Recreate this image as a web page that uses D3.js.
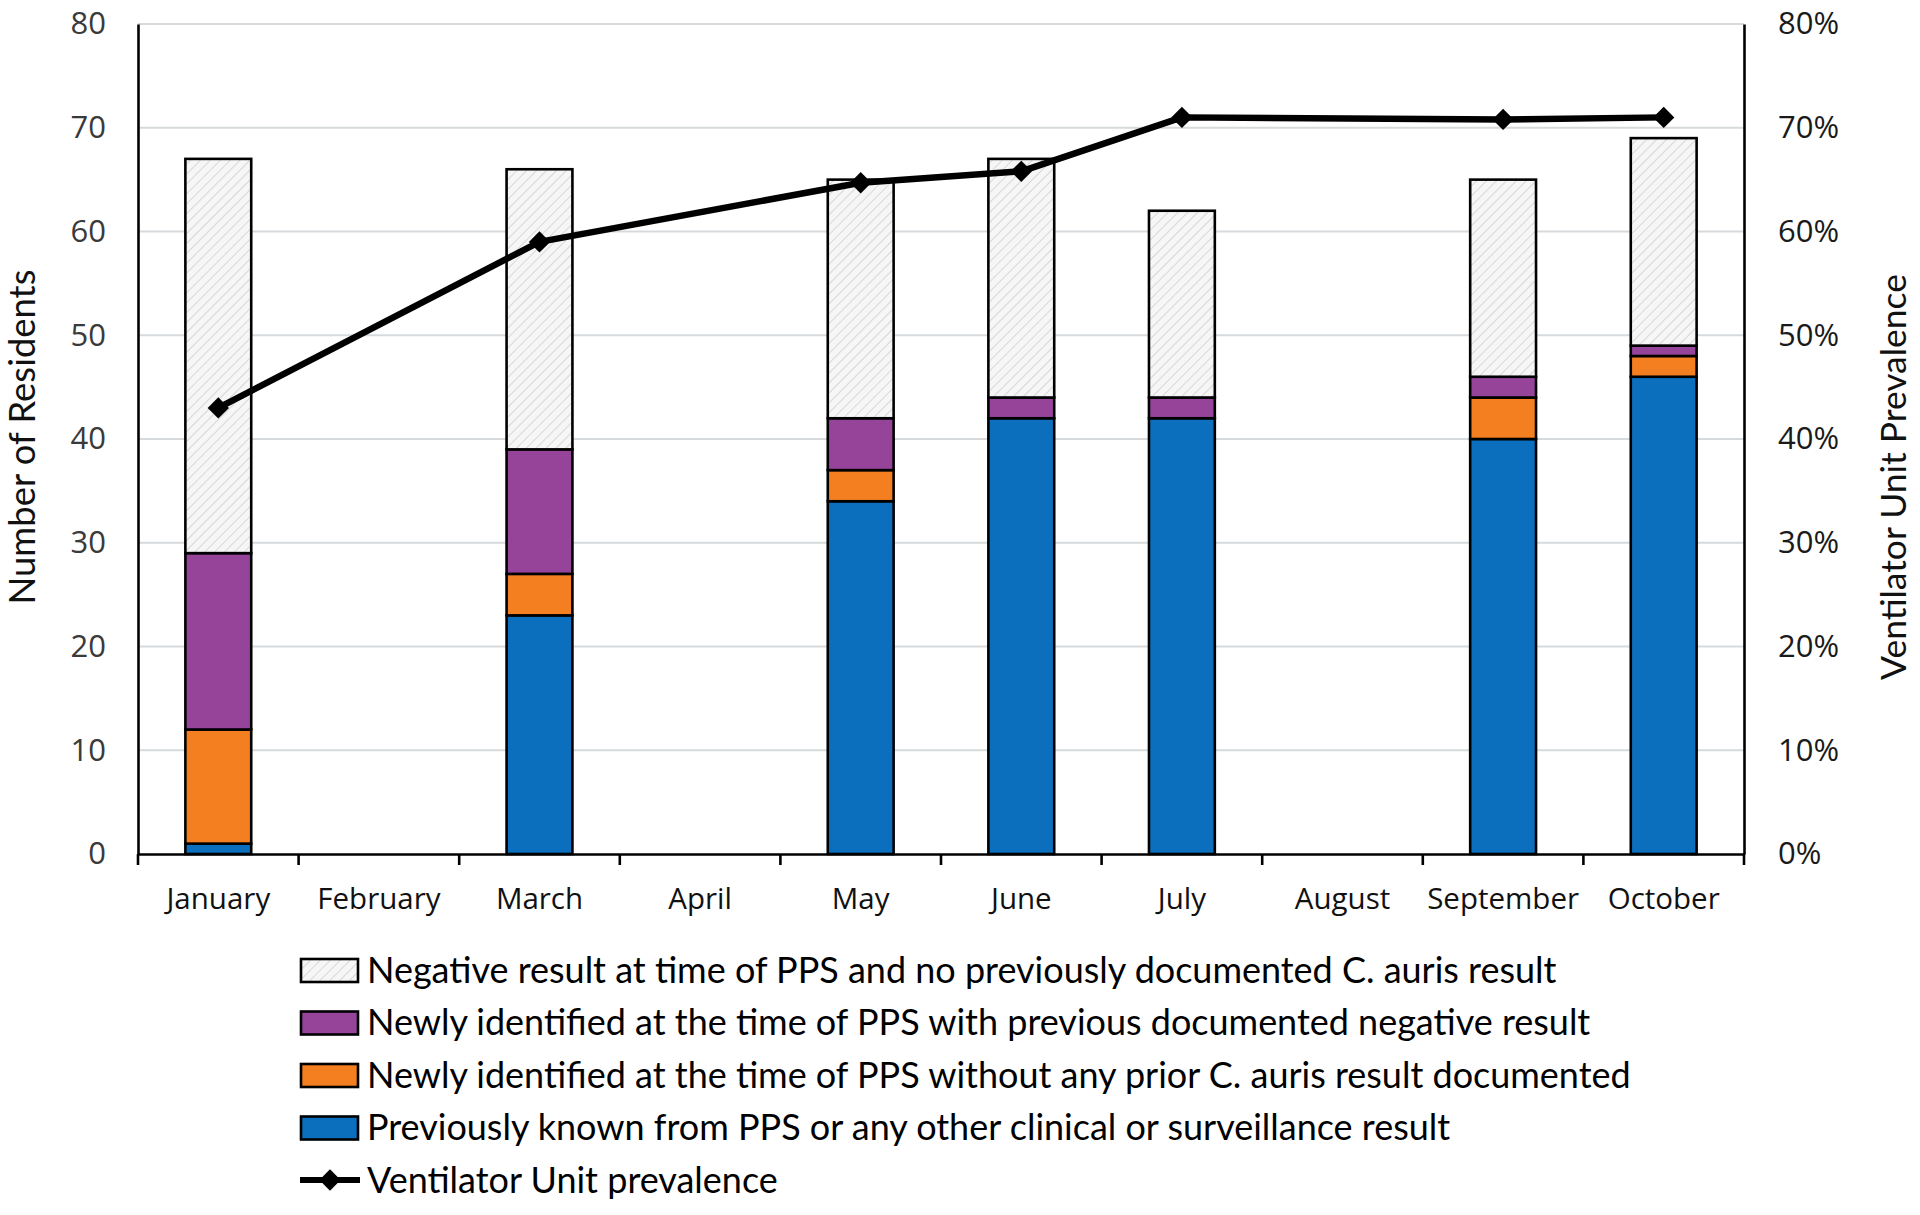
<!DOCTYPE html>
<html>
<head>
<meta charset="utf-8">
<script src="https://cdn.jsdelivr.net/npm/d3@7"></script>
<style>
  body { margin: 0; background: #fff; }
  .tick text { font-family: "Open Sans", sans-serif; }
  .axisLabel { font-family: Lato, "Open Sans", sans-serif; fill: #111; }
  .legendText { font-family: Lato, "Open Sans", sans-serif; fill: #000; }
</style>
</head>
<body>
<div id="chart"></div>
<script>
(function () {
  "use strict";

  // Data
  const months = ["January", "February", "March", "April", "May", "June", "July", "August", "September", "October"];
  const previouslyKnown = [1, null, 23, null, 34, 42, 42, null, 40, 46];
  const newNoPrior = [11, null, 4, null, 3, 0, 0, null, 4, 2];
  const newPriorNegative = [17, null, 12, null, 5, 2, 2, null, 2, 1];
  const negative = [38, null, 27, null, 23, 23, 18, null, 19, 20];
  const prevalence = [0.43, null, 0.59, null, 0.647, 0.658, 0.71, null, 0.708, 0.71];
  const leftTicks = [0, 10, 20, 30, 40, 50, 60, 70, 80];
  const rightTicks = [0, 0.1, 0.2, 0.3, 0.4, 0.5, 0.6, 0.7, 0.8];

  const seriesNames = [
    "Previously known from PPS or any other clinical or surveillance result",
    "Newly identified at the time of PPS without any prior C. auris result documented",
    "Newly identified at the time of PPS with previous documented negative result",
    "Negative result at time of PPS and no previously documented C. auris result",
  ];
  const seriesFills = ["#0b6fbd", "#f37f21", "#96449a", "url(#hatch)"];
  const lineName = "Ventilator Unit prevalence";

  const svgWidth = 1920, svgHeight = 1215;
  const margin = { top: 24, left: 138, right: 176, bottom: 361 },
    width = svgWidth - margin.left - margin.right,
    height = svgHeight - margin.top - margin.bottom;

  const root = d3.select("#chart")
    .append("svg")
    .attr("width", svgWidth)
    .attr("height", svgHeight);

  // hatch for the negative series
  const pattern = root.append("defs")
    .append("pattern")
    .attr("id", "hatch")
    .attr("patternUnits", "userSpaceOnUse")
    .attr("width", 7)
    .attr("height", 7)
    .attr("patternTransform", "rotate(45)");
  pattern.append("rect").attr("width", 7).attr("height", 7).attr("fill", "#f6f6f6");
  pattern.append("line")
    .attr("x1", 0).attr("y1", 0).attr("x2", 0).attr("y2", 7)
    .attr("stroke", "#cfcfcf").attr("stroke-width", 1.6);

  const svg = root.append("g")
    .attr("transform", "translate(" + margin.left + "," + margin.top + ")");

  const x = d3.scaleBand().domain(months).range([0, width]).paddingInner(0).paddingOuter(0);
  const barW = x.bandwidth() * 0.41;
  const y = d3.scaleLinear().domain([0, 80]).range([height, 0]);
  const y2 = d3.scaleLinear().domain([0, 0.8]).range([height, 0]);

  // gridlines
  svg.append("g")
    .selectAll("line")
    .data(leftTicks.filter((d) => d > 0))
    .enter()
    .append("line")
    .attr("x1", 0).attr("x2", width)
    .attr("y1", (d) => y(d)).attr("y2", (d) => y(d))
    .attr("stroke", "#d6dadc")
    .attr("stroke-width", 2);

  // stacked bars
  const table = months.map((m, i) => ({
    month: m,
    s0: previouslyKnown[i], s1: newNoPrior[i], s2: newPriorNegative[i], s3: negative[i],
  })).filter((d) => d.s0 !== null);
  const stack = d3.stack().keys(["s0", "s1", "s2", "s3"])(table);

  svg.append("g")
    .selectAll("g")
    .data(stack)
    .enter()
    .append("g")
    .attr("fill", (d, i) => seriesFills[i])
    .selectAll("rect")
    .data((d) => d)
    .enter()
    .append("rect")
    .attr("x", (d) => x(d.data.month) + (x.bandwidth() - barW) / 2)
    .attr("width", barW)
    .attr("y", (d) => y(d[1]))
    .attr("height", (d) => y(d[0]) - y(d[1]))
    .attr("stroke", "#000")
    .attr("stroke-width", 2.6);

  // axes
  const xAxis = d3.axisBottom(x).tickSize(0).tickPadding(34);
  const xAxisG = svg.append("g")
    .attr("transform", "translate(0," + height + ")")
    .call(xAxis);
  xAxisG.select(".domain").attr("stroke", "#000").attr("stroke-width", 2.6);
  xAxisG.selectAll(".tick text")
    .attr("font-family", "Lato, 'Open Sans', sans-serif")
    .attr("font-size", 29.5)
    .attr("fill", "#111");
  // between-category tick marks
  xAxisG.selectAll(".sepTick")
    .data(d3.range(months.length + 1))
    .enter()
    .append("line")
    .attr("class", "sepTick")
    .attr("x1", (d) => d * x.step()).attr("x2", (d) => d * x.step())
    .attr("y1", 0).attr("y2", 11)
    .attr("stroke", "#000").attr("stroke-width", 2.6);

  const yAxisG = svg.append("g")
    .call(d3.axisLeft(y).tickValues(leftTicks).tickSize(0).tickPadding(32));
  yAxisG.select(".domain").attr("stroke", "#000").attr("stroke-width", 2.6);
  yAxisG.selectAll(".tick text").attr("font-size", 31).attr("fill", "#3a3a3a");

  const y2AxisG = svg.append("g")
    .attr("transform", "translate(" + width + ",0)")
    .call(d3.axisRight(y2).tickValues(rightTicks).tickFormat(d3.format(".0%")).tickSize(0).tickPadding(34));
  y2AxisG.select(".domain").attr("stroke", "#000").attr("stroke-width", 2.6);
  y2AxisG.selectAll(".tick text").attr("font-size", 31).attr("fill", "#1a1a1a");

  // prevalence line (skip months without survey)
  const points = months.map((m, i) => ({ month: m, v: prevalence[i] })).filter((d) => d.v !== null);
  const cx = (d) => x(d.month) + x.bandwidth() / 2;
  svg.append("path")
    .datum(points)
    .attr("fill", "none")
    .attr("stroke", "#000")
    .attr("stroke-width", 6.5)
    .attr("stroke-linejoin", "round")
    .attr("d", d3.line().x(cx).y((d) => y2(d.v)));

  const diamond = d3.symbol().type(d3.symbolDiamond2).size(290);
  svg.append("g")
    .selectAll("path")
    .data(points)
    .enter()
    .append("path")
    .attr("d", diamond)
    .attr("transform", (d) => "translate(" + cx(d) + "," + y2(d.v) + ")")
    .attr("fill", "#000");

  // axis titles, sized to the reference length
  const fitText = (sel, target) => {
    const len = sel.node().getComputedTextLength();
    sel.attr("font-size", 32 * target / len);
  };
  const leftTitle = root.append("text")
    .attr("class", "axisLabel")
    .attr("transform", "translate(35,437) rotate(-90)")
    .attr("text-anchor", "middle")
    .attr("font-size", 32)
    .text("Number of Residents");
  fitText(leftTitle, 335);

  const rightTitle = root.append("text")
    .attr("class", "axisLabel")
    .attr("transform", "translate(1906,477) rotate(-90)")
    .attr("text-anchor", "middle")
    .attr("font-size", 32)
    .text("Ventilator Unit Prevalence");
  fitText(rightTitle, 406);

  // legend
  const legendItems = [
    { name: seriesNames[3], fill: seriesFills[3] },
    { name: seriesNames[2], fill: seriesFills[2] },
    { name: seriesNames[1], fill: seriesFills[1] },
    { name: seriesNames[0], fill: seriesFills[0] },
    { name: lineName, line: true },
  ];
  const legend = root.append("g").attr("transform", "translate(300,970)");
  const rows = legend.selectAll("g")
    .data(legendItems)
    .enter()
    .append("g")
    .attr("transform", (d, i) => "translate(0," + i * 52.5 + ")");

  rows.filter((d) => !d.line)
    .append("rect")
    .attr("x", 1).attr("y", -11)
    .attr("width", 57).attr("height", 23)
    .attr("fill", (d) => d.fill)
    .attr("stroke", "#000").attr("stroke-width", 2.6);

  const lineRow = rows.filter((d) => d.line);
  lineRow.append("line")
    .attr("x1", 0).attr("x2", 60).attr("y1", 0).attr("y2", 0)
    .attr("stroke", "#000").attr("stroke-width", 6);
  lineRow.append("path")
    .attr("d", diamond)
    .attr("transform", "translate(30,0)")
    .attr("fill", "#000");

  const legendTexts = rows.append("text")
    .attr("class", "legendText")
    .attr("x", 67)
    .attr("dy", "0.35em")
    .attr("font-size", 36)
    .text((d) => d.name);

  // fit longest legend entry to the reference width
  const first = legendTexts.nodes()[0].getComputedTextLength();
  const fs = Math.min(40, 36 * 1190 / first);
  legendTexts.attr("font-size", fs);
})();
</script>
</body>
</html>
